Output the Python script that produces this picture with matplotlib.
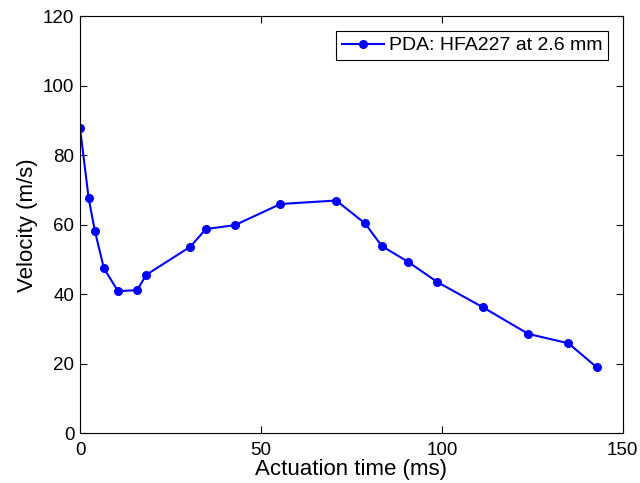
import matplotlib
matplotlib.use("Agg")
import matplotlib.pyplot as plt

time_ms = [0, 2.4, 4.1, 6.6, 10.5, 15.8, 18.3, 30.5, 34.8, 42.8, 55.4, 70.8,
           78.8, 83.4, 90.6, 98.8, 111.3, 123.9, 135.0, 142.8]
velocity = [87.9, 67.6, 58.3, 47.5, 40.9, 41.2, 45.6, 53.7, 58.8, 59.9, 66.0, 67.0,
            60.4, 53.9, 49.4, 43.5, 36.3, 28.6, 25.9, 19.0]
series_label = "PDA: HFA227 at 2.6 mm"
x_ticks = [0, 50, 100, 150]
y_ticks = [0, 20, 40, 60, 80, 100, 120]

plt.rcParams['font.family'] = ['Liberation Sans', 'DejaVu Sans']

fig = plt.figure(figsize=(6.4, 4.83), dpi=100)
ax = fig.add_axes([0.125, 0.103, 0.848, 0.863])
ax.plot(time_ms, velocity, '-o', color='#0000ff', lw=1.5, ms=5.5, label=series_label)
ax.set_xlim(0, 150)
ax.set_ylim(0, 120)
ax.set_xticks(x_ticks)
ax.set_yticks(y_ticks)
ax.tick_params(direction='in', top=True, right=True, labelsize=13.5, length=5, width=0.8, pad=4)
ax.tick_params(axis='x', pad=6)
for s in ax.spines.values():
    s.set_linewidth(0.8)
ax.set_xlabel("Actuation time (ms)", fontsize=16, labelpad=0)
ax.set_ylabel("Velocity (m/s)", fontsize=16, labelpad=4)
leg = ax.legend(loc='upper right', fontsize=14, fancybox=False, edgecolor='black',
                framealpha=1, borderaxespad=0.75, handlelength=2.15, handletextpad=0.25,
                borderpad=0.3)
leg.get_frame().set_linewidth(0.8)
fig.savefig("out.png", dpi=100)
